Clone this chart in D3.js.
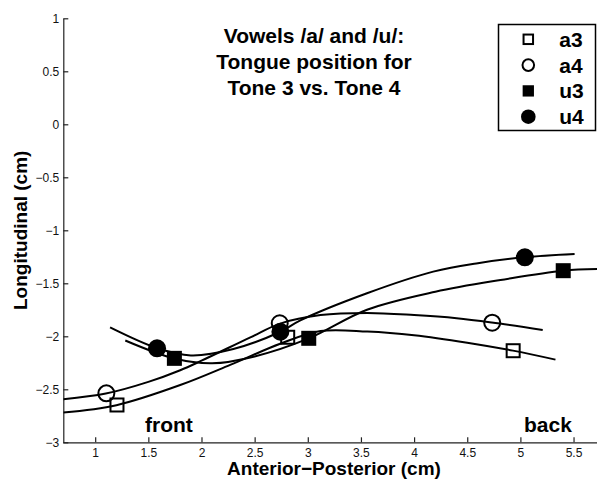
<!DOCTYPE html>
<html>
<head>
<meta charset="utf-8">
<script src="https://cdn.jsdelivr.net/npm/d3@7"></script>
<style>
  html, body { margin: 0; padding: 0; background: #fff; }
  svg { display: block; }
  text { font-family: "Liberation Sans", Arial, Helvetica, sans-serif; }
</style>
</head>
<body>
<svg id="chart" width="597" height="479"></svg>
<script>
// ---- data ----
const xTicks = [1, 1.5, 2, 2.5, 3, 3.5, 4, 4.5, 5, 5.5];
const xTickLabels = ["1", "1.5", "2", "2.5", "3", "3.5", "4", "4.5", "5", "5.5"];
const yTicks = [1, 0.5, 0, -0.5, -1, -1.5, -2, -2.5, -3];
const yTickLabels = ["1", "0.5", "0", "\u22120.5", "\u22121", "\u22121.5", "\u22122", "\u22122.5", "\u22123"];

const seriesNames = ["a3", "a4", "u3", "u4"];

// fitted tongue curves (x, y)
const curveA3 = [[0.70,-2.72],[1.2,-2.65],[1.8,-2.46],[2.27,-2.27],[2.74,-2.07],[3.12,-1.95],[3.56,-1.955],[4.0,-1.99],[4.5,-2.06],[4.93,-2.135],[5.33,-2.22]];
const curveA4 = [[0.70,-2.594],[1.1,-2.54],[1.5,-2.43],[1.8,-2.32],[2.0,-2.23],[2.46,-2.01],[2.74,-1.88],[3.12,-1.80],[3.56,-1.78],[4.0,-1.80],[4.4,-1.83],[4.73,-1.87],[5.21,-1.94]];
const curveU3 = [[1.283,-2.04],[1.745,-2.21],[2.1,-2.255],[2.5,-2.19],[3.009,-2.02],[3.557,-1.75],[4.2,-1.58],[4.813,-1.469],[5.403,-1.381],[5.8,-1.365]];
const curveU4 = [[1.14,-1.915],[1.58,-2.11],[1.9,-2.18],[2.3,-2.12],[2.742,-1.957],[2.93,-1.85],[3.557,-1.594],[4.18,-1.39],[4.6,-1.31],[5.04,-1.255],[5.51,-1.224]];

// measured points
const pointsA3 = [[1.205,-2.648],[2.811,-2.009],[4.932,-2.136]];
const pointsA4 = [[1.105,-2.538],[2.736,-1.877],[4.735,-1.872]];
const pointsU3 = [[1.745,-2.208],[3.009,-2.019],[5.403,-1.381]];
const pointsU4 = [[1.582,-2.113],[2.742,-1.957],[5.042,-1.255]];

const titleLines = ["Vowels /a/ and /u/:", "Tongue position for", "Tone 3 vs. Tone 4"];
const xLabel = "Anterior\u2212Posterior (cm)";
const yLabel = "Longitudinal (cm)";

// ---- layout ----
const svg = d3.select("#chart");
const pLeft = 63.3, pRight = 605, pTop = 18.3, pBottom = 442.3;
const x = d3.scaleLinear().domain([0.7, 5.8]).range([pLeft, pLeft + (5.8 - 0.7) * 106.3]);
const y = d3.scaleLinear().domain([-3, 1]).range([pBottom, pTop]);

svg.append("defs").append("clipPath").attr("id", "clip")
  .append("rect").attr("x", pLeft).attr("y", pTop).attr("width", pRight - pLeft).attr("height", pBottom - pTop);

// axes
const xAxis = d3.axisBottom(x).tickValues(xTicks).tickSizeInner(-5).tickSizeOuter(0)
  .tickPadding(6).tickFormat((d, i) => xTickLabels[i]);
const yAxis = d3.axisLeft(y).tickValues(yTicks).tickSizeInner(-5).tickSizeOuter(0)
  .tickPadding(4).tickFormat((d, i) => yTickLabels[i]);

const gx = svg.append("g").attr("transform", `translate(0,${pBottom})`).call(xAxis);
const gy = svg.append("g").attr("transform", `translate(${pLeft},0)`).call(yAxis);
[gx, gy].forEach(g => {
  g.select(".domain").attr("stroke", "#222").attr("stroke-width", 1.2);
  g.selectAll(".tick line").attr("stroke", "#222").attr("stroke-width", 1.2);
  g.selectAll(".tick text").attr("fill", "#111").attr("font-size", 12)
    .attr("font-family", '"Liberation Sans", Arial, sans-serif');
});
gx.select(".domain").attr("d", `M${pLeft},0.5H${597}`);

// curves
const line = d3.line().x(d => x(d[0])).y(d => y(d[1])).curve(d3.curveCatmullRom.alpha(0.5));
const plot = svg.append("g").attr("clip-path", "url(#clip)");
[curveA3, curveA4, curveU3, curveU4].forEach(c => {
  plot.append("path").attr("d", line(c)).attr("fill", "none")
    .attr("stroke", "#000").attr("stroke-width", 2);
});

// markers
function drawMarker(g, kind, cx, cy, big) {
  if (kind === "a3") {
    const s = big ? 13 : 9.5;
    g.append("rect").attr("x", cx - s/2).attr("y", cy - s/2).attr("width", s).attr("height", s)
      .attr("fill", "none").attr("stroke", "#000").attr("stroke-width", 2);
  } else if (kind === "a4") {
    g.append("circle").attr("cx", cx).attr("cy", cy).attr("r", big ? 8 : 5.8)
      .attr("fill", "none").attr("stroke", "#000").attr("stroke-width", 2);
  } else if (kind === "u3") {
    const s = big ? 15 : 11.3;
    g.append("rect").attr("x", cx - s/2).attr("y", cy - s/2).attr("width", s).attr("height", s)
      .attr("fill", "#000");
  } else {
    g.append("circle").attr("cx", cx).attr("cy", cy).attr("r", big ? 9 : 7.3).attr("fill", "#000");
  }
}
const markerSets = [pointsA3, pointsA4, pointsU3, pointsU4];
const mg = svg.append("g");
markerSets.forEach((pts, i) => pts.forEach(p => drawMarker(mg, seriesNames[i], x(p[0]), y(p[1]), true)));

// title
const tg = svg.append("g");
titleLines.forEach((t, i) => {
  tg.append("text").attr("x", 314).attr("y", 42.5 + i * 26).attr("text-anchor", "middle")
    .attr("font-size", 21).attr("font-weight", "bold").attr("fill", "#000").text(t);
});

// annotations
svg.append("text").attr("x", 145).attr("y", 431.5).attr("font-size", 21).attr("font-weight", "bold").text("front");
svg.append("text").attr("x", 524).attr("y", 431.5).attr("font-size", 21).attr("font-weight", "bold").text("back");

// axis labels
svg.append("text").attr("x", 334).attr("y", 474.5).attr("text-anchor", "middle")
  .attr("font-size", 19).attr("font-weight", "bold").text(xLabel);
svg.append("text").attr("transform", `translate(26.5,${(pTop + pBottom) / 2}) rotate(-90)`)
  .attr("text-anchor", "middle").attr("font-size", 19).attr("font-weight", "bold").text(yLabel);

// legend
const lg = svg.append("g");
lg.append("rect").attr("x", 498.5).attr("y", 24.5).attr("width", 97).attr("height", 106)
  .attr("fill", "#fff").attr("stroke", "#000").attr("stroke-width", 1.5);
seriesNames.forEach((n, i) => {
  const cy = 39.3 + i * 25.8;
  drawMarker(lg, n, 528.3, cy, false);
  lg.append("text").attr("x", 559.3).attr("y", cy + 7.5).attr("font-size", 21)
    .attr("font-weight", "bold").text(n);
});
</script>
</body>
</html>
